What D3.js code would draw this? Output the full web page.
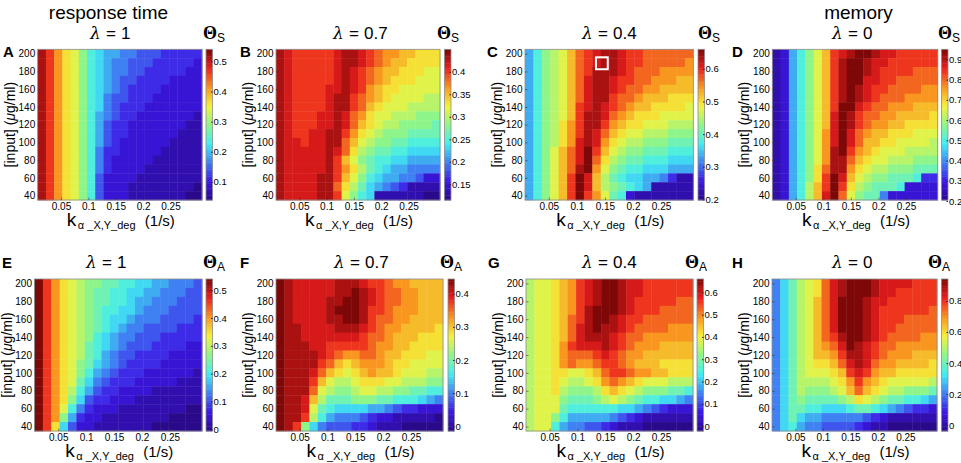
<!DOCTYPE html>
<html>
<head>
<meta charset="utf-8">
<script src="https://cdn.jsdelivr.net/npm/d3@7"></script>
<style>
  body { margin: 0; background: #fff; }
  svg { display: block; }
  text { font-family: "Liberation Sans", Arial, sans-serif; fill: #000; }
  .tick text { font-family: "Liberation Sans Narrow", "Liberation Sans", Arial, sans-serif; font-size: 10px; }
  .cbar .tick text { font-size: 9.5px; }
</style>
</head>
<body>
<div id="chart"></div>
<script>
// grid of the simulations
const kValues = [0.015, 0.03, 0.045, 0.06, 0.075, 0.09, 0.105, 0.12, 0.135, 0.15,
                 0.165, 0.18, 0.195, 0.21, 0.225, 0.24, 0.255, 0.27, 0.285, 0.3];
const inputValues = [200, 190, 180, 170, 160, 150, 140, 130, 120, 110, 100, 90, 80, 70, 60, 50, 40];
const kTicks = [0.05, 0.1, 0.15, 0.2, 0.25];
const inputTicks = [40, 60, 80, 100, 120, 140, 160, 180, 200];

// each cell is a level 0..20 of its colour bar (0 = bottom, K = top), rows from 200 down to 40
const levelCodes = "0123456789ABCDEFGHIJK";

const thetaS_lam1 = [
  "JHFDCA87665544433333", "JHFDCA87655444333332", "JHFDCA87655443333322", "JHFDCA87654433332222",
  "JHFDCA87654333322222", "JHFDCA87544333222222", "JHFDCA87543332222222", "JHFDCA86543322222221",
  "JHFDCA86433222222211", "JHFDCA86433222222111", "JHFDCA86432222221111", "JHFDCA85332222211111",
  "JHFDCA85322222111111", "JHFDCA85322221111111", "JHFDCA84222211111111", "JHFDCA84222111111110",
  "JHFDCA84222111111100"
];
const thetaS_lam07 = [
  "JIHHHHHIJJIHGFFEEDDD", "JIHHHHHIJJIHGFEEDDDD", "JIHHHHHIJIHGFEEDDDCC", "JIHHHHHIJIHGFEDDDCCC",
  "JIHHHHIIJIHFEDDCCCCC", "JIHHHHIJJHGFEDCCCCBB", "JIHHHHIJJHGEDCCCBBBB", "JIHHHIIJIGFDCCBBBAAA",
  "JIHHHIIJIGEDCBBAAAA9", "JIHHIIJJHFDCBAAA9999", "JIIHIIJJGECBAA998888", "JIIIIIJIGDBA99887777",
  "JIIIIIJHECA988776666", "JIIIIIJHFDB987665555", "JIIIIJJHECA876655422", "JIIIIJJGDB9765431111",
  "JIIIIJJHCA8711111100"
];
const thetaS_lam04 = [
  "68ABCEGHIJJIHHGGGGGG", "68ABCEGHIJJIHHGGGGGF", "68ABCEGHJJJIHGGGFFFF", "68ABCEGIJJIHHGGFFFEE",
  "68ABCEGIJJIHGGFFEEEE", "68ABCEGIJJHGGFEEEDDD", "68ABCEHIJIHGFEEDDDDC", "68ABCEHJJIGFEDDDCCCC",
  "68ABDFHJJHFEDDCCCBBB", "68ABDFHJIGEDCCBBBAAA", "68ABDFIJIFDCBBAAA999", "68ACEGIKHECBAA999888",
  "68ACEGIKGDBA99888777", "68ACEGJKFCA988777666", "68ACEHKIEB9877665311", "68ACEHKIEBA987611111",
  "68ACEHKHFC9821111111"
];
const thetaS_lam0 = [
  "1268ACEHIJKKJIIHHHHH", "1268ACEHJKKJIIHHHHHH", "1268ACEHJKKJIHHHHGGG", "1268ACEHJKKIIHHGGGGG",
  "1268ACEHJKJIHHGGGGFF", "1268ACEHJKJIHGGGFFFF", "1268ACEHKKIHGGFFFEEE", "1268ACEIKJHGGFFEEEED",
  "1268ACEIKJHGFFEEDDDD", "1268ACFIKIGFEEDDDCCC", "1268ACFIKIGEEDDCCCCB", "1268ACFJKHFEDCCCBBBB",
  "1268ACFJJGEDCCBBBAAA", "1268ADGJJFDCBBAAA999", "1268ADHKIECBAA999833", "1268BEHKHDBA99982222",
  "1268BEIKGCA995222222"
];
const thetaA_lam1 = [
  "KHFDCBAA998877665554", "KHFDCBA9988776655544", "KHFDCBA9988766555444", "KHFDCBA9887765554444",
  "KHFDCBA9877655544443", "KHFDCBA9876554444333", "KHFDCBA8765544433333", "KHFDCB98765444333322",
  "KHFDCB98654433332222", "KHFDCA97654333322222", "KHFDCA86543332222221", "KHFDC975433322222111",
  "KHFDB864332222111111", "KHFDA743322211111111", "KHFC8532221111111100", "KHFA6322111111110000",
  "KHD74221111111000000"
];
const thetaA_lam07 = [
  "KJIIIIIJJJIHHGFFEEEE", "KJIIIIIJJKJIHGGFFEEE", "KJIIIIJJKKJIHGGFFEEE", "KJIIIIJKKKJHHGFFFEEE",
  "KJIIIIJJKKJHGGFFEEEE", "KJJIIIIJJJIHGFFEEEED", "KJJIIIIIIIHGGFEEEDDD", "KJJJIIHHHHHGFFEEDDDD",
  "KJJJJIHGFFGGFEEDDDCC", "KJJJJHGEDEFFFEDDCCCC", "KJJJIGEDCDEFEEDCCCBB", "KJJJHECBBCDDDCCBBBAA",
  "KJJJGCBAABCCBBAA9988", "KJJIEB999AAA99888765", "KJJIC987777665433222", "KJJHB865554322111110",
  "KJHA7544433211100000"
];
const thetaA_lam04 = [
  "BCCDEFHIJKKJIIHHHHHH", "BCCDEFHIJKKJIIHHHHHH", "BCCDEFHIJKKJIHHHHHGG", "BCCDEFHJKKKJIHHHGGGG",
  "BCCDEGHJKKJIHHGGGGGG", "BCCDEGIJKJJIHGGGGFFF", "BCCDEGIJJJIHGGFFFFFF", "BCCDFHIIIJIHGFFFEEEE",
  "BCCDFGGGHIHGFFEEEEEE", "BCCDFGFFGHHGFEEEDDDD", "BCCDDCCDEGHHGFFEEDDD", "BCCDCBBCDFGFEDCCCBBB",
  "BCCDBAAABDEDCBAAA998", "BCCCA999ABCBA9887765", "BCCC9888888776543222", "BCCA8666665432111111",
  "BCC86554432111000000"
];
const thetaA_lam0 = [
  "579BCDGIJKKKJIIIIHHH", "579BCDGIJKKKJIIHHHHH", "579BCEGIKKKJIIHHHHHH", "579BCEGIKKKJIHHHHHHG",
  "579BCEGIKKKJIHHHGGGG", "579BCEGIKKKJIHHGGGGG", "579BCEGHJKKJIHGGGGFF", "579BCEFGIKJIHGGFFFFF",
  "579BCEEFHJJIHGFFFEEE", "579BCDDEGIJIGFFEEEED", "579BCCCDEHIHFEEDDDDD", "579BBBBCDFHFEDCCCCCB",
  "579BAAABCEGEDCBBAAA9", "579A9999ABDCBA998876", "57998877789987654332", "57976655555432111111",
  "57865544443211000000"
];

const panelGrids = [thetaS_lam1, thetaS_lam07, thetaS_lam04, thetaS_lam0,
                    thetaA_lam1, thetaA_lam07, thetaA_lam04, thetaA_lam0];
const lambdaLabels = ["1", "0.7", "0.4", "0", "1", "0.7", "0.4", "0"];
const thetaSubs = ["S", "S", "S", "S", "A", "A", "A", "A"];
const colorbarRanges = [[0.04, 0.54], [0.115, 0.45], [0.198, 0.66], [0.205, 0.95],
                        [-0.006, 0.54], [-0.015, 0.445], [-0.022, 0.66], [-0.036, 0.94]];
const colorbarTicks = [
  [0.1, 0.2, 0.3, 0.4, 0.5],
  [0.15, 0.2, 0.25, 0.3, 0.35, 0.4],
  [0.2, 0.3, 0.4, 0.5, 0.6],
  [0.2, 0.3, 0.4, 0.5, 0.6, 0.7, 0.8, 0.9],
  [0, 0.1, 0.2, 0.3, 0.4, 0.5],
  [0, 0.1, 0.2, 0.3, 0.4],
  [0, 0.1, 0.2, 0.3, 0.4, 0.5, 0.6],
  [0, 0.2, 0.4, 0.6, 0.8]
];
// highlighted cell in panel C
const markerK = [0.134, 0.155];
const markerInput = [182.5, 196];

// jet-like colormap as it appears in the figure
const cmapStops = [0, 0.125, 0.25, 0.375, 0.5, 0.625, 0.75, 0.875, 1];
const cmapColors = ["#2a0a8a", "#3c16e6", "#3f80f2", "#40eef2", "#8ef58a",
                    "#f4f23a", "#f8961f", "#ec1e1e", "#7e0808"];

// layout
const layout = [
  { letter: "A", row: 0, x0: 37.7, x1: 202,   cb: 206,   letterX: 3,   lamX: 90,  thetaX: 203 },
  { letter: "B", row: 0, x0: 276,  x1: 440,   cb: 444.5, letterX: 240, lamX: 333, thetaX: 437 },
  { letter: "C", row: 0, x0: 525,  x1: 693.3, cb: 698,   letterX: 487, lamX: 582, thetaX: 698 },
  { letter: "D", row: 0, x0: 772.3,x1: 937.7, cb: 941.5, letterX: 732, lamX: 832, thetaX: 938 },
  { letter: "E", row: 1, x0: 34.5, x1: 202,   cb: 206,   letterX: 2,   lamX: 86,  thetaX: 203 },
  { letter: "F", row: 1, x0: 276,  x1: 443,   cb: 448,   letterX: 240, lamX: 334, thetaX: 440 },
  { letter: "G", row: 1, x0: 526,  x1: 693,   cb: 697,   letterX: 488, lamX: 582, thetaX: 685 },
  { letter: "H", row: 1, x0: 772,  x1: 937,   cb: 941.5, letterX: 732, lamX: 832, thetaX: 928 }
];
const rowLayout = [
  { y0: 49.3, y1: 200, titleY: 39,  letterY: 57,  labelY: 226 },
  { y0: 279,  y1: 431, titleY: 268, letterY: 268, labelY: 456.5 }
];
const cbWidth = 6.5;

const svg = d3.select("#chart").append("svg")
  .attr("width", 961)
  .attr("height", 463);

// column headers
svg.append("text").attr("x", 108.5).attr("y", 19).attr("text-anchor", "middle")
  .attr("font-size", "19px").text("response time");
svg.append("text").attr("x", 858.5).attr("y", 19).attr("text-anchor", "middle")
  .attr("font-size", "19px").text("memory");

const kHalf = (kValues[1] - kValues[0]) / 2;
const inHalf = (inputValues[0] - inputValues[1]) / 2;
const fmt = d3.format("~g");

layout.forEach((p, i) => {
  const r = rowLayout[p.row];
  const [lo, hi] = colorbarRanges[i];
  const grid = panelGrids[i];

  // values
  const cells = [];
  grid.forEach((rowStr, ri) => {
    kValues.forEach((k, ci) => {
      const lvl = levelCodes.indexOf(rowStr[ci] || "0");
      cells.push({ k: k, input: inputValues[ri], value: lo + (lvl / 20) * (hi - lo) });
    });
  });

  const x = d3.scaleLinear()
    .domain([kValues[0] - kHalf, kValues[kValues.length - 1] + kHalf])
    .range([p.x0, p.x1]);
  const y = d3.scaleLinear()
    .domain([inputValues[inputValues.length - 1] - inHalf, inputValues[0] + inHalf])
    .range([r.y1, r.y0]);
  const color = d3.scaleLinear()
    .domain(cmapStops.map(s => lo + s * (hi - lo)))
    .range(cmapColors)
    .clamp(true);

  const g = svg.append("g");

  // heatmap cells
  g.append("g")
    .selectAll("rect")
    .data(cells)
    .enter()
    .append("rect")
    .attr("x", d => x(d.k - kHalf))
    .attr("y", d => y(d.input + inHalf))
    .attr("width", d => x(d.k + kHalf) - x(d.k - kHalf) + 0.4)
    .attr("height", d => y(d.input - inHalf) - y(d.input + inHalf) + 0.4)
    .attr("fill", d => color(d.value));

  // frame
  g.append("rect")
    .attr("x", p.x0).attr("y", r.y0)
    .attr("width", p.x1 - p.x0).attr("height", r.y1 - r.y0)
    .attr("fill", "none").attr("stroke", "#8c8c8c").attr("stroke-width", 0.8);

  // axes with inner ticks
  const xAxis = g.append("g")
    .attr("transform", `translate(0,${r.y1})`)
    .call(d3.axisBottom(x).tickValues(kTicks).tickFormat(fmt).tickSize(-2.5).tickPadding(2.5));
  const yAxis = g.append("g")
    .attr("transform", `translate(${p.x0},0)`)
    .call(d3.axisLeft(y).tickValues(inputTicks).tickSize(-2.5).tickPadding(2.5));
  [xAxis, yAxis].forEach(a => {
    a.select(".domain").remove();
    a.selectAll(".tick line").attr("stroke", "#333").attr("stroke-opacity", 0.55);
  });

  if (i === 2) {
    g.append("rect")
      .attr("x", x(markerK[0]))
      .attr("y", y(markerInput[1]))
      .attr("width", x(markerK[1]) - x(markerK[0]))
      .attr("height", y(markerInput[0]) - y(markerInput[1]))
      .attr("fill", "none").attr("stroke", "#fff").attr("stroke-width", 2);
  }

  // colour bar
  const cy = d3.scaleLinear().domain([lo, hi]).range([r.y1, r.y0]);
  const steps = d3.range(64).map(s => lo + (s + 0.5) * (hi - lo) / 64);
  const stepH = (r.y1 - r.y0) / 64;
  g.append("g")
    .selectAll("rect")
    .data(steps)
    .enter()
    .append("rect")
    .attr("x", p.cb)
    .attr("y", d => cy(d) - stepH / 2)
    .attr("width", cbWidth)
    .attr("height", stepH + 0.4)
    .attr("fill", d => color(d));
  g.append("rect")
    .attr("x", p.cb).attr("y", r.y0)
    .attr("width", cbWidth).attr("height", r.y1 - r.y0)
    .attr("fill", "none").attr("stroke", "#8c8c8c").attr("stroke-width", 0.8);
  const cAxis = g.append("g")
    .attr("class", "cbar")
    .attr("transform", `translate(${p.cb + cbWidth},0)`)
    .call(d3.axisRight(cy).tickValues(colorbarTicks[i]).tickFormat(fmt).tickSize(-1.5).tickPadding(1));
  cAxis.select(".domain").remove();
  cAxis.selectAll(".tick line").attr("stroke", "#222");

  // panel letter
  svg.append("text").attr("x", p.letterX).attr("y", r.letterY)
    .attr("font-size", "15px").attr("font-weight", "bold").text(p.letter);

  // lambda title
  const t = svg.append("text").attr("y", r.titleY).attr("font-size", "17px");
  t.append("tspan").attr("x", p.lamX)
    .attr("font-family", "'DejaVu Serif', serif").attr("font-style", "italic").text("λ");
  t.append("tspan").attr("x", p.lamX + 16).text("=");
  t.append("tspan").attr("x", p.lamX + 31).text(lambdaLabels[i]);

  // Theta label above the colour bar
  const th = svg.append("text").attr("y", r.titleY);
  th.append("tspan").attr("x", p.thetaX)
    .attr("font-family", "'Liberation Serif', 'DejaVu Serif', serif")
    .attr("font-weight", "bold").attr("font-size", "18px").text("Θ");
  th.append("tspan").attr("x", p.thetaX + 14).attr("dy", 3)
    .attr("font-size", "12px").text(thetaSubs[i]);

  // y label
  const cyMid = (r.y0 + r.y1) / 2;
  const yl = svg.append("text")
    .attr("transform", `translate(${p.x0 - 23},${cyMid}) rotate(-90)`)
    .attr("text-anchor", "middle").attr("font-size", "14px");
  yl.append("tspan").text("[input] (");
  yl.append("tspan").attr("font-style", "italic").text("μ");
  yl.append("tspan").text("g/ml)");

  // x label
  const cx = (p.x0 + p.x1) / 2;
  const xb = r.labelY;
  svg.append("text").attr("x", cx - 53).attr("y", xb).attr("font-size", "19px").text("k");
  svg.append("text").attr("x", cx - 42).attr("y", xb + 3).attr("font-size", "11px")
    .attr("xml:space", "preserve").text("α _X,Y_deg");
  svg.append("text").attr("x", cx + 25).attr("y", xb).attr("font-size", "15px").text("(1/s)");
});
</script>
</body>
</html>
